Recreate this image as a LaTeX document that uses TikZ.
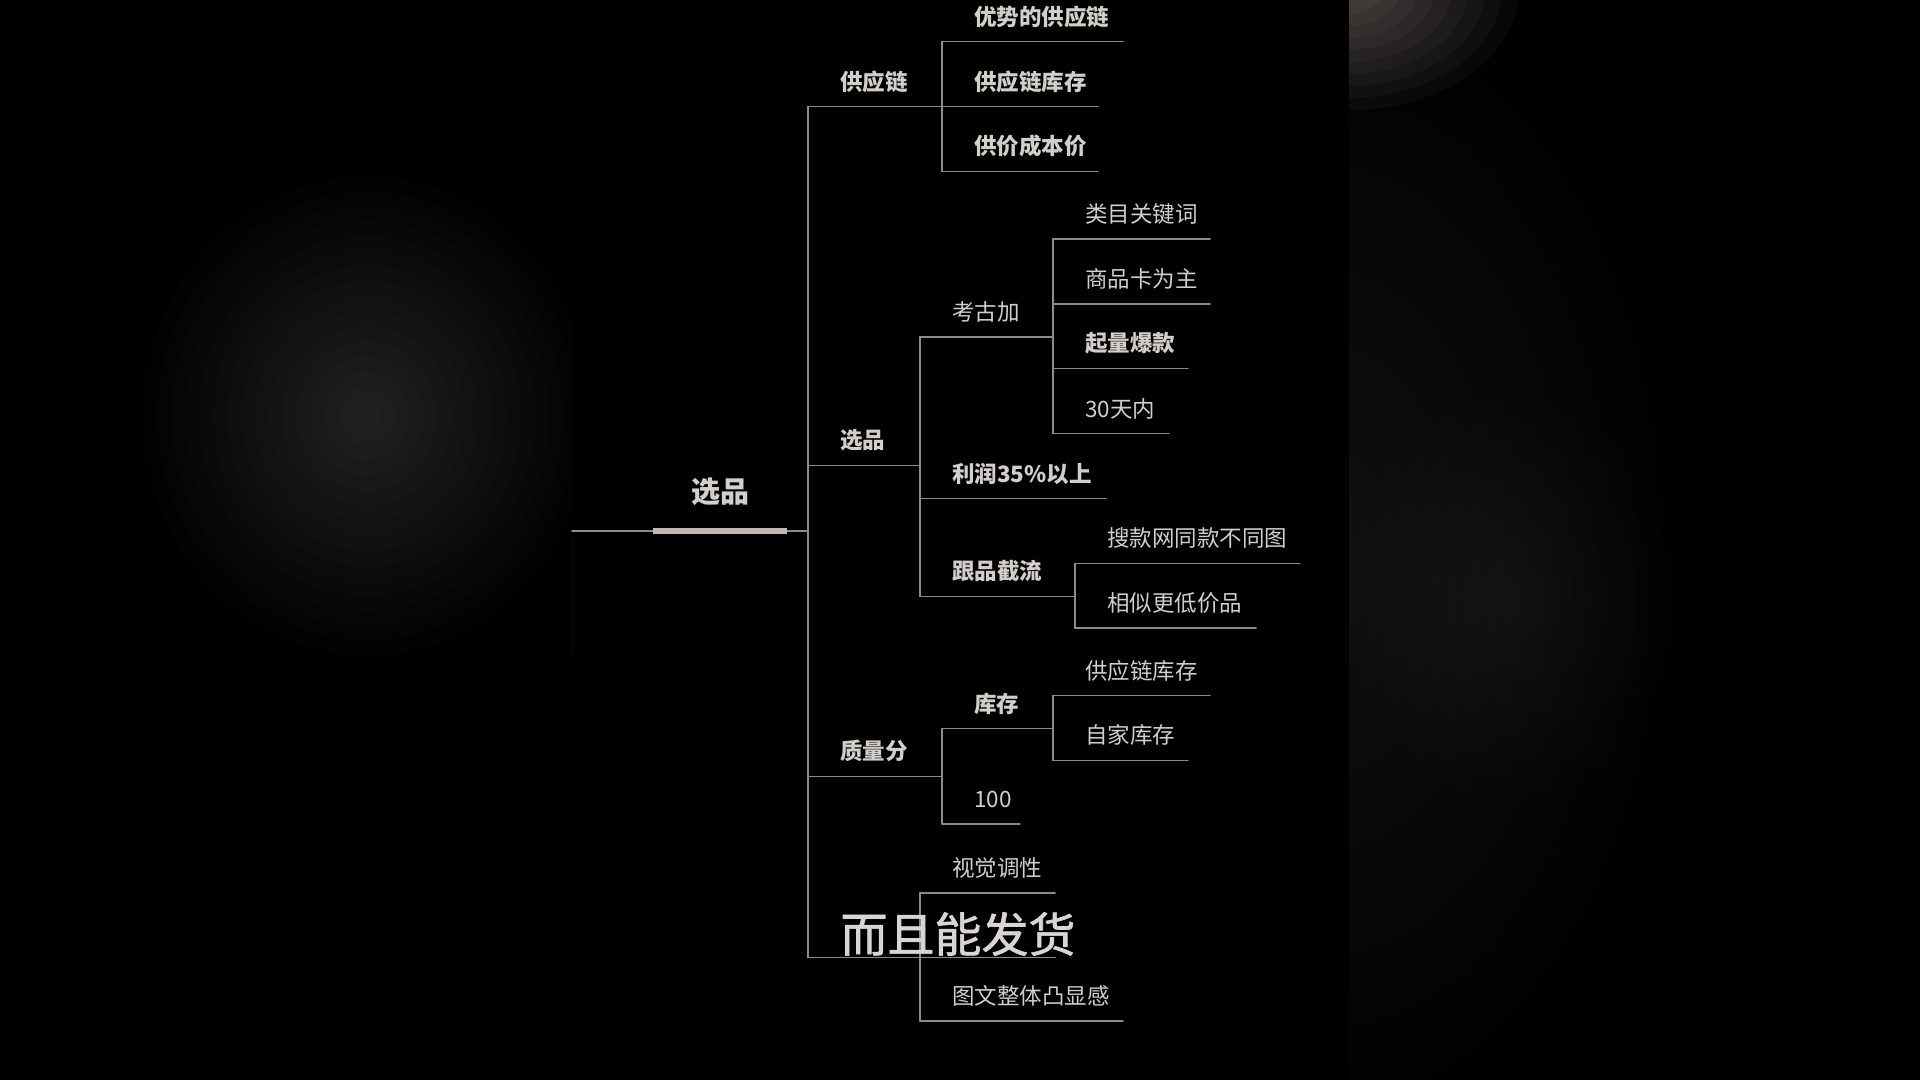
\documentclass[tikz,border=0pt]{standalone}
\usepackage{fontspec}
\newfontfamily\cjk{Noto Sans CJK SC}
\newfontfamily\cjkmid{Noto Sans CJK SC}[FakeBold=1.3]
\definecolor{ln}{HTML}{8E8A86}
\definecolor{txt}{HTML}{D2CECA}
\definecolor{barc}{HTML}{BDB8B3}
\definecolor{glw}{HTML}{FFF4EA}
\definecolor{edge}{HTML}{3A3836}

% one branch: name, label style, x start, x end, y, text
\newcommand\twig[6]{%
  \coordinate (#1-a) at (#3,#5);
  \coordinate (#1-b) at (#4,#5);
  \draw[br] (#1-a) -- (#1-b);
  \node[#2] (#1) at (#3+32,#5-25) {#6};
}

\begin{document}
\begin{tikzpicture}[x=1pt, y=-1pt, line join=round, line cap=round, font=\cjk,
  br/.style={draw=ln, line width=1.6pt},
  lbl/.style={anchor=west, inner sep=0pt, text=txt, font=\cjk\fontsize{22.5}{25}\selectfont},
  lblb/.style={lbl, font=\cjk\bfseries\fontsize{22.5}{25}\selectfont},
  rootlbl/.style={inner sep=0pt, text=txt, font=\cjk\bfseries\fontsize{29}{32}\selectfont},
  sub/.style={inner sep=0pt, text=txt!85!white, font=\cjkmid\fontsize{47}{50}\selectfont}]
    \useasboundingbox (0,0) rectangle (1920,1080);
    \fill[black] (0,0) rectangle (1920,1080);
    % blurred side panels
    \begin{scope}
        \clip (0,0) rectangle (572,1080);
        \foreach \i in {1,...,16}
            \fill[glw, fill opacity=0.011] (367,416) ellipse ({14*\i} and {15*\i});
        \draw[edge, line width=1pt] (572,536) -- (572,655);
    \end{scope}
    \begin{scope}
        \clip (1349,0) rectangle (1920,1080);
        \foreach \i in {1,...,16}
            \fill[glw, fill opacity=0.008] (1330,560) ellipse ({22*\i} and {36*\i});
        \foreach \i in {1,...,10}
            \fill[glw, fill opacity=0.008] (1510,600) ellipse ({16*\i} and {20*\i});
        \foreach \i in {1,...,10}
            \fill[glw, fill opacity=0.03] (1349,-10) ellipse ({17*\i} and {12*\i});
    \end{scope}

    % root
    \coordinate (rt-a) at (572,531);
    \coordinate (bar-a) at (653,531);
    \coordinate (bar-b) at (787,531);
    \coordinate (rt-b) at (808,531);
    \draw[br] (rt-a) -- (rt-b);
    \draw[draw=barc, line width=6pt, line cap=butt] (bar-a) -- (bar-b);
    \node[rootlbl] (xp) at (720,492) {选品};

    % 供应链
    \twig{gyl}{lblb}{808}{942}{106.5}{供应链}
    \twig{ys}{lblb}{942}{1123}{41.6}{优势的供应链}
    \twig{gylkc}{lblb}{942}{1098}{106.5}{供应链库存}
    \twig{gjcb}{lblb}{942}{1098}{171.4}{供价成本价}
    \draw[br] (ys-a) -- (gjcb-a);

    % 选品
    \twig{xpb}{lblb}{808}{920}{465.3}{选品}
    \twig{kgj}{lbl}{920}{1053}{336.7}{考古加}
    \twig{lmgjc}{lbl}{1053}{1210}{238.8}{类目关键词}
    \twig{spk}{lbl}{1053}{1210}{303.7}{商品卡为主}
    \twig{qlbk}{lblb}{1053}{1188}{368.6}{起量爆款}
    \twig{stn}{lbl}{1053}{1169}{433.5}{30天内}
    \draw[br] (lmgjc-a) -- (stn-a);
    \twig{lr}{lblb}{920}{1106}{498.4}{利润35\%以上}
    \twig{gpjl}{lblb}{920}{1075}{596.3}{跟品截流}
    \twig{skw}{lbl}{1075}{1300}{563.3}{搜款网同款不同图}
    \twig{xsgd}{lbl}{1075}{1256}{628.2}{相似更低价品}
    \draw[br] (skw-a) -- (xsgd-a);
    \draw[br] (kgj-a) -- (gpjl-a);

    % 质量分
    \twig{zlf}{lblb}{808}{942}{776.3}{质量分}
    \twig{kc}{lblb}{942}{1053}{728.6}{库存}
    \twig{gylkcb}{lbl}{1053}{1210}{695.5}{供应链库存}
    \twig{zjkc}{lbl}{1053}{1188}{760.4}{自家库存}
    \draw[br] (gylkcb-a) -- (zjkc-a);
    \twig{yb}{lbl}{942}{1020}{824}{100}
    \draw[br] (kc-a) -- (yb-a);

    % last branch, label under the subtitle
    \coordinate (sj-a) at (808,957.6);
    \coordinate (sj-b) at (920,957.6);
    \coordinate (zj-b) at (1055,957.6);
    \draw[br] (sj-a) -- (sj-b) -- (zj-b);
    \twig{sjdx}{lbl}{920}{1055}{892.7}{视觉调性}
    \twig{twzt}{lbl}{920}{1123}{1021}{图文整体凸显感}
    \draw[br] (sjdx-a) -- (twzt-a);

    \draw[br] (gyl-a) -- (sj-a);

    % subtitle
    \node[sub] (zm) at (958,934) {而且能发货};
\end{tikzpicture}
\end{document}
